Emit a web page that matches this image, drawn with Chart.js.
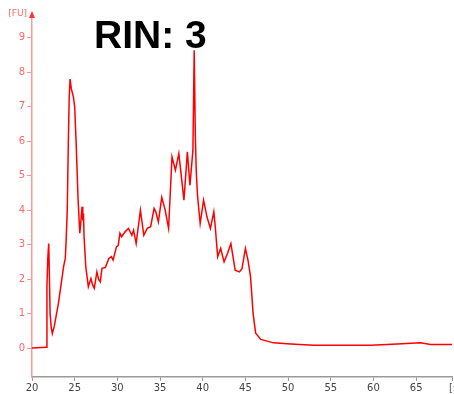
<!DOCTYPE html>
<html>
<head>
<meta charset="utf-8">
<script src="https://cdn.jsdelivr.net/npm/chart.js@4"></script>
<style>
  html, body { margin: 0; padding: 0; background: #fff; }
  #wrap { width: 454px; height: 394px; }
</style>
</head>
<body>
<div id="wrap"><canvas id="c" width="454" height="394"></canvas></div>
<script>
// electropherogram: time [s] and fluorescence [FU]
const times = [20, 21.65, 21.75, 21.85, 21.96, 22.03, 22.12, 22.25, 22.38, 22.6, 23.1, 23.7, 23.9, 24.0, 24.13, 24.26, 24.36, 24.46, 24.6, 24.85, 25.0, 25.16, 25.4, 25.6, 25.7, 25.87, 25.95, 26.03, 26.1, 26.3, 26.6, 26.9, 27.1, 27.3, 27.6, 27.8, 28.0, 28.2, 28.6, 29.0, 29.3, 29.5, 29.9, 30.1, 30.3, 30.5, 30.9, 31.3, 31.7, 31.9, 32.2, 32.7, 33.1, 33.5, 33.9, 34.3, 34.5, 34.8, 35.2, 35.6, 36.0, 36.4, 36.8, 37.2, 37.8, 38.2, 38.5, 38.85, 39.0, 39.13, 39.25, 39.4, 39.7, 40.1, 40.5, 40.9, 41.3, 41.45, 41.75, 42.1, 42.5, 42.9, 43.3, 43.8, 44.3, 44.6, 45.0, 45.3, 45.6, 45.9, 46.2, 46.8, 48.3, 50.3, 53, 57, 59.7, 62.8, 65.5, 66.7, 69.2];
const fu = [0, 0.02, 1.8, 2.6, 3.03, 2.2, 1.0, 0.6, 0.42, 0.62, 1.3, 2.36, 2.6, 3.13, 4.0, 6.03, 7.28, 7.8, 7.53, 7.28, 7.0, 6.03, 4.29, 3.33, 3.6, 4.1, 3.7, 3.9, 3.23, 2.36, 1.78, 2.02, 1.83, 1.73, 2.21, 2.0, 1.92, 2.31, 2.34, 2.6, 2.65, 2.55, 2.94, 2.97, 3.33, 3.23, 3.37, 3.47, 3.27, 3.42, 3.03, 4.0, 3.27, 3.47, 3.52, 4.05, 3.95, 3.66, 4.37, 4.0, 3.47, 5.55, 5.16, 5.64, 4.29, 5.69, 4.72, 5.74, 8.64, 6.2, 5.06, 4.39, 3.61, 4.29, 3.8, 3.47, 3.95, 3.57, 2.65, 2.89, 2.5, 2.74, 3.03, 2.26, 2.21, 2.3, 2.89, 2.55, 2.07, 1.0, 0.43, 0.25, 0.15, 0.12, 0.08, 0.08, 0.08, 0.12, 0.15, 0.1, 0.1];

const xMin = 20, xMax = 69.2;
const yMin = -0.84, yMax = 9.66;
const chartTitle = 'RIN: 3';

const points = times.map((t, i) => ({ x: t, y: fu[i] }));

const decor = {
    id: 'decor',
    afterDraw(chart) {
        const ctx = chart.ctx;
        const a = chart.chartArea;
        ctx.save();
        // arrow on top of y axis
        ctx.fillStyle = '#ff3333';
        ctx.beginPath();
        ctx.moveTo(a.left, a.top - 4);
        ctx.lineTo(a.left - 3, a.top + 3);
        ctx.lineTo(a.left + 3, a.top + 3);
        ctx.closePath();
        ctx.fill();
        // unit labels
        ctx.font = '9px "DejaVu Sans"';
        ctx.fillStyle = '#ff6666';
        ctx.textAlign = 'right';
        ctx.textBaseline = 'middle';
        ctx.fillText('[FU]', a.left - 5, a.top - 1);
        ctx.fillStyle = '#555';
        ctx.textAlign = 'left';
        ctx.font = '10px "DejaVu Sans"';
        ctx.fillText('[s', a.right - 3, a.bottom + 11);
        // title
        ctx.fillStyle = '#000';
        ctx.font = 'bold 39px "Liberation Sans"';
        ctx.textAlign = 'left';
        ctx.textBaseline = 'alphabetic';
        ctx.fillText(chartTitle, 94, 48);
        ctx.restore();
    }
};

new Chart(document.getElementById('c'), {
    type: 'line',
    data: {
        datasets: [{
            data: points,
            borderColor: '#ff0000',
            borderWidth: 1.5,
            pointRadius: 0,
            tension: 0,
            fill: false
        }]
    },
    options: {
        responsive: false,
        animation: false,
        layout: { padding: { top: 15, right: 2, left: 0, bottom: 0 } },
        plugins: { legend: { display: false }, tooltip: { enabled: false } },
        scales: {
            x: {
                type: 'linear',
                min: xMin,
                max: xMax,
                afterFit: s => { s.height = 17; },
                grid: { drawOnChartArea: false, drawTicks: true, tickLength: 4, color: '#999' },
                border: { color: '#999', width: 1.5 },
                ticks: {
                    stepSize: 5,
                    padding: 1,
                    maxRotation: 0,
                    color: '#444',
                    font: { family: 'DejaVu Sans', size: 10 },
                    callback: v => (v % 5 === 0 && v <= 65) ? v : ''
                }
            },
            y: {
                min: yMin,
                max: yMax,
                afterFit: s => { s.width = 32; },
                afterBuildTicks: s => {
                    s.ticks = [0, 1, 2, 3, 4, 5, 6, 7, 8, 9].map(v => ({ value: v }));
                },
                grid: { drawOnChartArea: false, drawTicks: true, tickLength: 5, color: '#ff9999' },
                border: { color: '#ff9999', width: 1.5 },
                ticks: {
                    padding: 2,
                    color: '#ff6666',
                    font: { family: 'DejaVu Sans', size: 10 }
                }
            }
        }
    },
    plugins: [decor]
});
</script>
</body>
</html>
